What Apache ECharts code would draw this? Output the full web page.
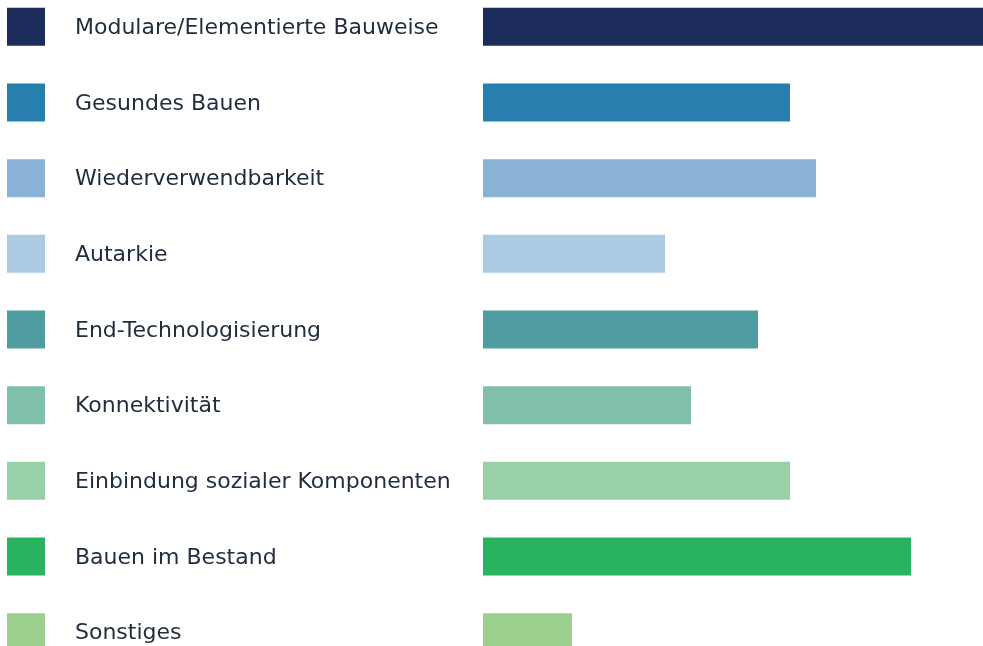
<!DOCTYPE html>
<html>
<head>
<meta charset="utf-8">
<script src="https://cdn.jsdelivr.net/npm/echarts@6/dist/echarts.min.js"></script>
<style>
  html, body { margin: 0; padding: 0; background: #fff; overflow: hidden; }
  /* the rows run a bit past the picture at top and bottom */
  #chart { position: absolute; left: 0; top: -11px; width: 983px; height: 681px; }
</style>
</head>
<body>
<div id="chart"></div>
<script>
    // categories, top to bottom
    var categories = [
        "Modulare/Elementierte Bauweise",
        "Gesundes Bauen",
        "Wiederverwendbarkeit",
        "Autarkie",
        "End-Technologisierung",
        "Konnektivität",
        "Einbindung sozialer Komponenten",
        "Bauen im Bestand",
        "Sonstiges"
    ];
    // relative share (longest bar = 100)
    var values = [100, 61.4, 66.6, 36.4, 55, 41.6, 61.4, 85.6, 17.8];
    var colors = ["#1d2d5b", "#277fad", "#89b2d6", "#abcbe2", "#4f9da0",
                  "#7fbfac", "#98d1a8", "#2ab35e", "#9dcf8f"];

    var chart = echarts.init(document.getElementById("chart"));

    // one rich style per square, so each row gets its own colour
    var rich = {
        name: { fontFamily: "DejaVu Sans", fontSize: 22, color: "#1f2d3d", padding: [3, 0, 0, 30] }
    };
    colors.forEach(function (c, i) {
        rich["s" + i] = { width: 38, height: 38, backgroundColor: c };
    });

    var option = {
        animation: false,
        grid: { left: 483, right: 0, top: 0, bottom: 0, containLabel: false },
        xAxis: {
            type: "value", min: 0, max: 100, show: false
        },
        yAxis: {
            type: "category",
            inverse: true,
            data: categories,
            axisLine: { show: false },
            axisTick: { show: false },
            splitLine: { show: false },
            axisLabel: {
                align: "left",
                margin: 476,
                formatter: function (v, i) {
                    return "{s" + i + "|}{name|" + v + "}";
                },
                rich: rich
            }
        },
        series: [{
            type: "bar",
            barWidth: 38,
            data: values.map(function (v, i) {
                return { value: v, itemStyle: { color: colors[i] } };
            })
        }]
    };

    chart.setOption(option);
</script>
</body>
</html>
